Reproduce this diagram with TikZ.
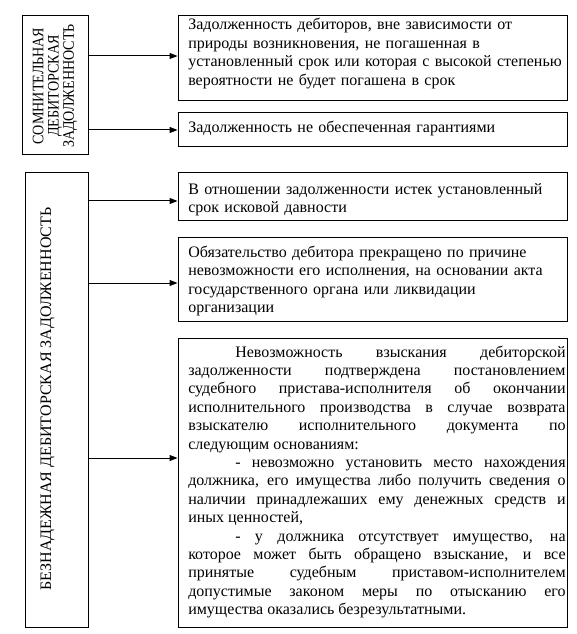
\documentclass[tikz,border=0pt]{standalone}
\usepackage{fontspec}
\setmainfont{Liberation Serif}
\usetikzlibrary{arrows.meta,fit}
\hyphenpenalty=10000
\exhyphenpenalty=10000
\tolerance=10000
\tikzset{
  box/.style={draw, line width=0.75pt, inner sep=0pt},
  arr/.style={line width=0.75pt, -{Triangle[length=6pt,width=4.5pt]}},
  txt/.style={inner sep=0pt, anchor=base west, text width=283pt, align=left,
    font=\fontsize{12}{13.8}\selectfont},
  txtj/.style={inner sep=0pt, anchor=base west, text width=283pt, align=justify,
    font=\fontsize{12}{13.8}\selectfont},
  vtxt/.style={inner sep=0pt, rotate=90, align=center},
}
\begin{document}
\begin{tikzpicture}[x=0.75pt,y=-0.75pt]
\useasboundingbox (0,0) rectangle (577,634);
% left boxes
\node[box, fit={(22,16) (88,155)}] (l1) {};
\node[box, fit={(25,173) (88,627)}] (l2) {};
% right boxes
\node[box, fit={(178,16) (567,101)}] (r1) {};
\node[box, fit={(178,113) (567,147)}] (r2) {};
\node[box, fit={(178,173) (567,221)}] (r3) {};
\node[box, fit={(178,238) (567,321)}] (r4) {};
\node[box, fit={(178,338) (567,627)}] (r5) {};
% left texts
\node[vtxt, font=\fontsize{12}{11.5}\selectfont\addfontfeature{FakeStretch=0.88}] (lt1) at (55,86)
  {СОМНИТЕЛЬНАЯ\\ДЕБИТОРСКАЯ\\ЗАДОЛЖЕННОСТЬ};
\node[vtxt, anchor=base, font=\fontsize{12}{14}\selectfont] (lt2) at (51,399)
  {БЕЗНАДЕЖНАЯ ДЕБИТОРСКАЯ ЗАДОЛЖЕННОСТЬ};
% right texts
\node[txt] (t1) at (188,30) {Задолженность дебиторов, вне зависимости от\\
природы возникновения, не погашенная в\\
установленный срок или которая с высокой степенью\\
вероятности не будет погашена в срок};
\node[txt] (t2) at (188,132.7) {Задолженность не обеспеченная гарантиями};
\node[txt] (t3) at (188,194.3) {В отношении задолженности истек установленный\\
срок исковой давности};
\node[txt] (t4) at (188,257.3) {Обязательство дебитора прекращено по причине\\
невозможности его исполнения, на основании акта\\
государственного органа или ликвидации\\
организации};
\node[txtj] (t5) at (188,357) {\hspace*{35.25pt}Невозможность взыскания дебиторской\linebreak
задолженности подтверждена постановлением\linebreak
судебного пристава-исполнителя об окончании\linebreak
исполнительного производства в случае возврата\linebreak
взыскателю исполнительного документа по\linebreak
следующим основаниям:\par
\hspace*{35.25pt}- невозможно установить место нахождения\linebreak
должника, его имущества либо получить сведения о\linebreak
наличии принадлежаших ему денежных средств и\linebreak
иных ценностей,\par
\hspace*{35.25pt}- у должника отсутствует имущество, на\linebreak
которое может быть обращено взыскание, и все\linebreak
принятые судебным приставом-исполнителем\linebreak
допустимые законом меры по отысканию его\linebreak
имущества оказались безрезультатными.};
% connectors
\draw[arr] (l1.east |- 0,56) -- (r1.west |- 0,56);
\draw[arr] (l1.east |- 0,130) -- (r2.west |- 0,130);
\draw[arr] (l2.east |- 0,201) -- (r3.west |- 0,201);
\draw[arr] (l2.east |- 0,283) -- (r4.west |- 0,283);
\draw[arr] (l2.east |- 0,458) -- (r5.west |- 0,458);
\end{tikzpicture}
\end{document}
